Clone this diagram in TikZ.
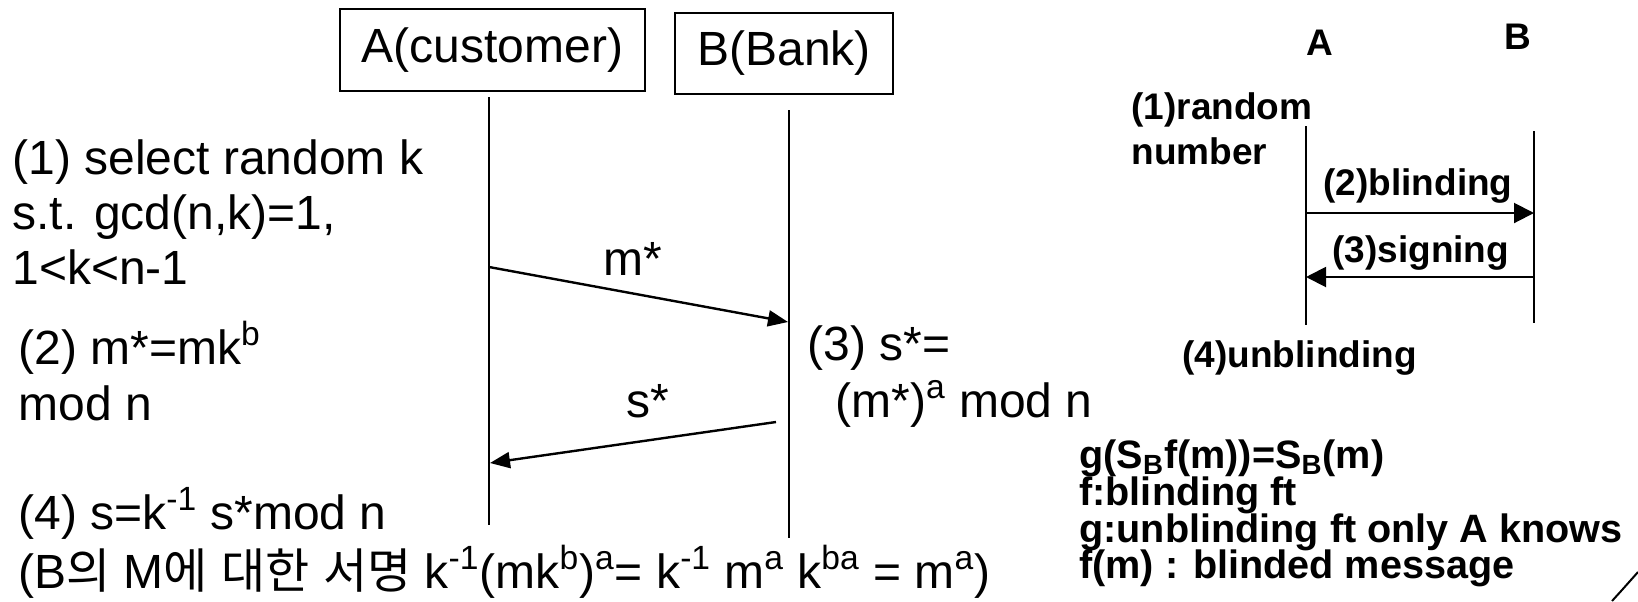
\documentclass[tikz,border=0pt]{standalone}
\usepackage{fontspec}
\setmainfont{Liberation Sans}
\newfontfamily\kr{Noto Sans CJK KR}
\usetikzlibrary{arrows.meta}
\begin{document}
\begin{tikzpicture}[x=0.5pt,y=-0.5pt,
  big/.style={inner sep=0pt,font=\fontsize{24}{27.5}\selectfont,align=left},
  lbl/.style={inner sep=0pt,font=\fontsize{18.5}{22.5}\selectfont\bfseries,align=left},
  note/.style={inner sep=0pt,font=\fontsize{19.8}{19}\selectfont\bfseries,anchor=base west},
  actor/.style={draw,line width=1pt,inner sep=0pt,font=\fontsize{24}{27.5}\selectfont},
  life/.style={line width=1pt},
  msg/.style={line width=1.2pt,-{Triangle[length=10pt,width=8pt]}},
  msgs/.style={line width=1pt,-{Triangle[length=10pt,width=10pt]}}]
\useasboundingbox (0,0) rectangle (1638,601);
% actors
\node[actor,minimum width=152.5pt,minimum height=41pt] (boxA) at (492.5,50) {A(customer)};
\node[actor,minimum width=109pt,minimum height=40.5pt] (boxB) at (784,53.5) {B(Bank)};
% lifelines
\coordinate (Atop) at (489,97);
\coordinate (Abot) at (489,525);
\coordinate (Btop) at (789,110);
\coordinate (Bbot) at (789,538);
\draw[life] (Atop) -- (Abot);
\draw[life] (Btop) -- (Bbot);
% messages
\coordinate (m1s) at (489,267);
\coordinate (m1e) at (788,322);
\coordinate (m2s) at (776,422);
\coordinate (m2e) at (490,463);
\draw[msg] (m1s) -- (m1e);
\draw[msg] (m2s) -- (m2e);
\node[big,anchor=base] (mstar) at (633,275) {m*};
\node[big,anchor=base] (sstar) at (648,417) {s*};
% left texts (base anchor = last line)
\node[big,anchor=base west] (t1) at (12,284) {(1) select random k\\s.t. gcd(n,k)=1,\\1<k<n-1};
\node[big,anchor=base west,font=\fontsize{24}{28}\selectfont] (t2) at (18,420) {(2) m*=mk\textsuperscript{b}\\mod n};
\node[big,anchor=base west] (t3a) at (807,360) {(3) s*=};
\node[big,anchor=base west] (t3b) at (835,417) {(m*)\textsuperscript{a} mod n};
\node[big,anchor=base west] (t4) at (18,529) {(4) s=k\textsuperscript{-1} s*mod n};
\node[big,anchor=base west] (t5) at (18,588) {(B{\kr 의} M{\kr 에} {\kr 대한} {\kr 서명} k\textsuperscript{-1}(mk\textsuperscript{b})\textsuperscript{a}= k\textsuperscript{-1} m\textsuperscript{a} k\textsuperscript{ba} = m\textsuperscript{a})};
% right panel
\node[lbl] (rA) at (1320,43) {A};
\node[lbl] (rB) at (1518,37) {B};
\coordinate (rAtop) at (1306,126);
\coordinate (rAbot) at (1306,325);
\coordinate (rBtop) at (1534,131);
\coordinate (rBbot) at (1534,323);
\draw[life] (rAtop) -- (rAbot);
\draw[life] (rBtop) -- (rBbot);
\coordinate (b1s) at (1306,213);
\coordinate (b1e) at (1534,213);
\coordinate (b2s) at (1534,277);
\coordinate (b2e) at (1306,277);
\draw[msgs] (b1s) -- (b1e);
\draw[msgs] (b2s) -- (b2e);
\node[lbl,anchor=base west] (r1) at (1131,164) {(1)random\\number};
\node[lbl,anchor=base west] (r2) at (1323,195) {(2)blinding};
\node[lbl,anchor=base west] (r3) at (1332,262) {(3)signing};
\node[lbl,anchor=base west] (r4) at (1182,367) {(4)unblinding};
\node[note] (n1) at (1079,468) {g(S\textsubscript{B}f(m))=S\textsubscript{B}(m)};
\node[note] (n2) at (1079,505) {f:blinding ft};
\node[note] (n3) at (1079,542) {g:unblinding ft only A knows};
\node[note] (n4) at (1079,578) {f(m) : blinded message};
% corner arc
\coordinate (arcs) at (1612,601);
\coordinate (arce) at (1638,572);
\draw[line width=1pt] (arcs) .. controls (1622,590) .. (arce);
\end{tikzpicture}
\end{document}
